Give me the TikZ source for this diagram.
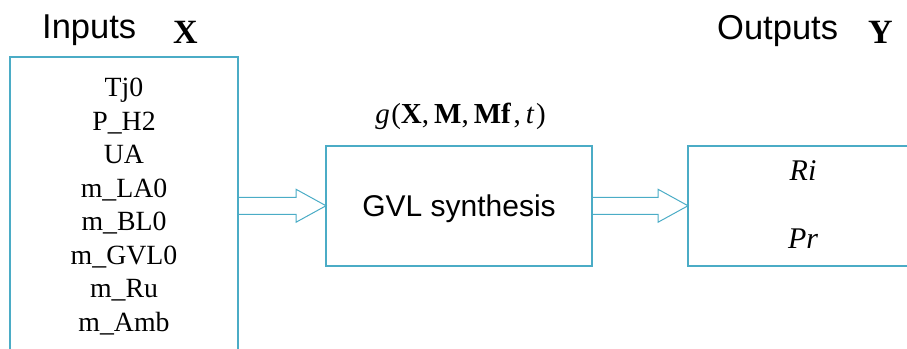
\documentclass[tikz,border=0pt]{standalone}
\usepackage{fontspec}
\setmainfont{Liberation Serif}
\setsansfont{Liberation Sans}
\usetikzlibrary{calc}
\definecolor{boxblue}{HTML}{4BACC6}
\begin{document}
\begin{tikzpicture}[x=1pt,y=-1pt,
  box/.style={draw=boxblue, line width=2pt, inner sep=0pt, outer sep=0pt},
  blockarrow/.style={draw=boxblue, line width=1pt, line join=miter},
  head/.style={font=\sffamily\fontsize{34.5}{40}\selectfont, inner sep=0pt},
  vec/.style={font=\fontsize{34}{40}\selectfont\bfseries, inner sep=0pt},
  item/.style={font=\fontsize{27.8}{33}\selectfont, inner sep=0pt},
  outitem/.style={font=\fontsize{30}{33}\selectfont\itshape, inner sep=0pt}]
\useasboundingbox (0,0) rectangle (907,348);
\clip (0,0) rectangle (907,348);
% boxes
\node[box, minimum width=228pt, minimum height=330pt, anchor=north west] (inbox) at (10,57) {};
\node[box, minimum width=266pt, minimum height=119.5pt, font=\sffamily\fontsize{30}{33}\selectfont, text depth=0pt] (mbox) at (459,205.75) {GVL synthesis};
\node[box, minimum width=230pt, minimum height=119.5pt] (obox) at (803,205.75) {};
% headings
\node[head, anchor=base west] (inputs) at (42,38) {Inputs};
\node[vec, anchor=base west] (xvec) at (173,43) {X};
\node[head, anchor=base west] (outputs) at (717,39) {Outputs};
\node[vec, anchor=base west] (yvec) at (868,43) {Y};
% function label
\node[anchor=base, font=\fontsize{29}{33}\selectfont, inner sep=0pt] (glabel) at (460.5,123)
  {\textit{g}\kern1.5pt(\textbf{X},\kern5pt\textbf{M},\kern5pt\textbf{Mf}\kern2.5pt,\kern5pt\textit{t}\kern1.5pt)};
% inputs list
\foreach \t [count=\i] in {Tj0, P\_H2, UA, m\_LA0, m\_BL0, m\_GVL0, m\_Ru, m\_Amb}
  \node[item, anchor=base] (in\i) at (124, 63.2+33.5*\i) {\t};
% outputs
\node[outitem, anchor=base] (ri) at (803,180) {Ri};
\node[outitem, anchor=base] (pr) at (803,248) {Pr};
% block arrows
\draw[blockarrow] ($(mbox.west)+(-88,-8.5)$) -- ++(58,0) -- ++(0,-8) -- (mbox.west)
  -- ++(-30,16.5) -- ++(0,-8) -- ++(-58,0);
\draw[blockarrow] ($(obox.west)+(-96,-8.5)$) -- ++(66,0) -- ++(0,-8) -- (obox.west)
  -- ++(-30,16.5) -- ++(0,-8) -- ++(-66,0);
\end{tikzpicture}
\end{document}
